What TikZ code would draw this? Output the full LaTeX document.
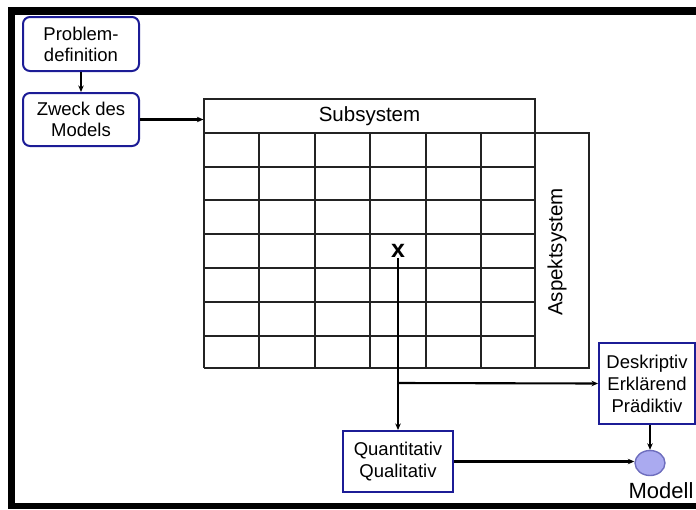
\documentclass[tikz,border=0pt]{standalone}
\usepackage{fontspec}
\setmainfont{Liberation Sans}
\usetikzlibrary{arrows.meta,shapes.geometric}
\definecolor{boxblue}{RGB}{28,28,150}
\definecolor{modelfill}{RGB}{170,170,240}
\definecolor{modeldraw}{RGB}{110,110,190}
\definecolor{gridgray}{RGB}{35,35,35}
\tikzset{
  stepbox/.style={draw=boxblue, line width=2pt, rounded corners=7pt, align=center,
    font=\fontsize{18.5}{21}\selectfont, inner sep=0pt},
  kindbox/.style={draw=boxblue, line width=2pt, align=center,
    font=\fontsize{18.5}{22}\selectfont, inner sep=0pt},
  link/.style={line width=2.1pt, -{Stealth[length=6.5pt,width=5.5pt]}},
  gridline/.style={draw=gridgray, line width=1.2pt},
}
\begin{document}
\begin{tikzpicture}[x=1pt,y=-1pt]
  \useasboundingbox (0,0) rectangle (696,509);
  % outer frame bands
  \fill[black] (8,7) rectangle (696,15);
  \fill[black] (8,7) rectangle (15,509);
  \fill[black] (8,503) rectangle (696,509);

  % process steps
  \node[stepbox, minimum width=116pt, minimum height=54pt] (problem) at (81,44) {Problem-\\definition};
  \node[stepbox, minimum width=116pt, minimum height=53pt] (zweck) at (81,119.5) {Zweck des\\Models};

  % matrix: subsystem header, cells and aspect column
  \node[gridline, draw, minimum width=331pt, minimum height=34pt, inner sep=0pt,
        font=\fontsize{20.5}{24}\selectfont] (header) at (369.5,116) {Subsystem};
  \foreach \xx in {204,259,315,370,426,481,535}
    \draw[gridline] (\xx,133) -- (\xx,368);
  \foreach \yy in {133,167,200,234,268,302,336,368}
    \draw[gridline] (204,\yy) -- (535,\yy);
  \node[gridline, draw, minimum width=54pt, minimum height=235pt, inner sep=0pt] (aspekt) at (562,250.5) {};
  \node[rotate=90, font=\fontsize{20.5}{24}\selectfont] (aspektlabel) at (557,252) {Aspektsystem};

  % marked cell
  \node[font=\fontsize{25}{28}\selectfont\bfseries, inner sep=0pt] (mark) at (398,251) {x};

  % model categories
  \node[kindbox, minimum width=96pt, minimum height=81pt] (desk) at (647,383.5) {Deskriptiv\\Erklärend\\Prädiktiv};
  \node[kindbox, minimum width=110pt, minimum height=61pt] (quant) at (398,461.5) {Quantitativ\\Qualitativ};
  \node[ellipse, draw=modeldraw, fill=modelfill, line width=1.4pt,
        minimum width=30pt, minimum height=25pt, inner sep=0pt] (modell) at (650,463) {};
  \node[font=\fontsize{22}{26}\selectfont, inner sep=0pt] (modelllabel) at (661,491) {Modell};

  % connectors
  \coordinate (branch) at (398,383);
  \draw[link] (problem.south) -- (zweck.north);
  \draw[link] (zweck.east) -- (zweck.east -| header.west);
  \draw[link] (mark.south) -- (quant.north);
  \draw[link] (branch) -- (desk.west);
  \draw[link] (desk.south -| modell.north) -- (modell.north);
  \draw[link] (quant.east) -- (quant.east -| modell.west);
\end{tikzpicture}
\end{document}
